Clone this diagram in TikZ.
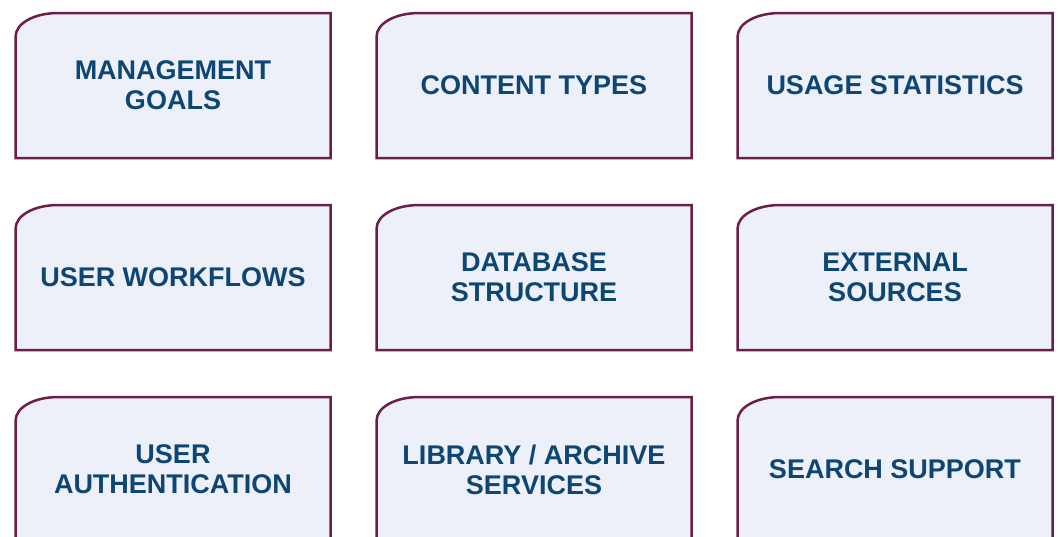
\documentclass[tikz,border=0pt]{standalone}
\usepackage{fontspec}
\setmainfont{Liberation Sans}
\usetikzlibrary{positioning,backgrounds}

\definecolor{cardfill}{HTML}{EDEFF9}
\definecolor{cardline}{HTML}{6B1F48}
\definecolor{cardtext}{HTML}{0D4672}

\tikzset{
  card/.style={minimum width=315pt, minimum height=145pt, inner sep=0pt, outer sep=0pt,
    align=center, text=cardtext, font=\bfseries\fontsize{27}{30}\selectfont},
  cardline/.style={draw=cardline, fill=cardfill, line width=2.5pt}
}

% outline of a card: one soft corner at the top left
\newcommand{\cardshape}[1]{%
  \draw[cardline] (#1.south west) -- ([yshift=-24pt]#1.north west)
    .. controls ([yshift=-10pt]#1.north west) and ([xshift=19pt]#1.north west) .. ([xshift=43pt]#1.north west)
    -- (#1.north east) -- (#1.south east) -- cycle;}

\begin{document}
\begin{tikzpicture}[node distance=47pt and 46pt]
\useasboundingbox (0,0) rectangle (1060pt,-536pt);

\node[card] (goals) at (173pt,-85.5pt) {MANAGEMENT\\GOALS};
\node[card] (types) [right=of goals] {CONTENT TYPES};
\node[card] (stats) [right=of types] {USAGE STATISTICS};
\node[card] (workflows) [below=of goals] {USER WORKFLOWS};
\node[card] (database) [below=of types] {DATABASE\\STRUCTURE};
\node[card] (sources) [below=of stats] {EXTERNAL\\SOURCES};
\node[card] (auth) [below=of workflows] {USER\\AUTHENTICATION};
\node[card] (library) [below=of database] {LIBRARY / ARCHIVE\\SERVICES};
\node[card] (search) [below=of sources] {SEARCH SUPPORT};

\begin{scope}[on background layer]
\cardshape{goals}
\cardshape{types}
\cardshape{stats}
\cardshape{workflows}
\cardshape{database}
\cardshape{sources}
\cardshape{auth}
\cardshape{library}
\cardshape{search}
\end{scope}

\end{tikzpicture}
\end{document}
